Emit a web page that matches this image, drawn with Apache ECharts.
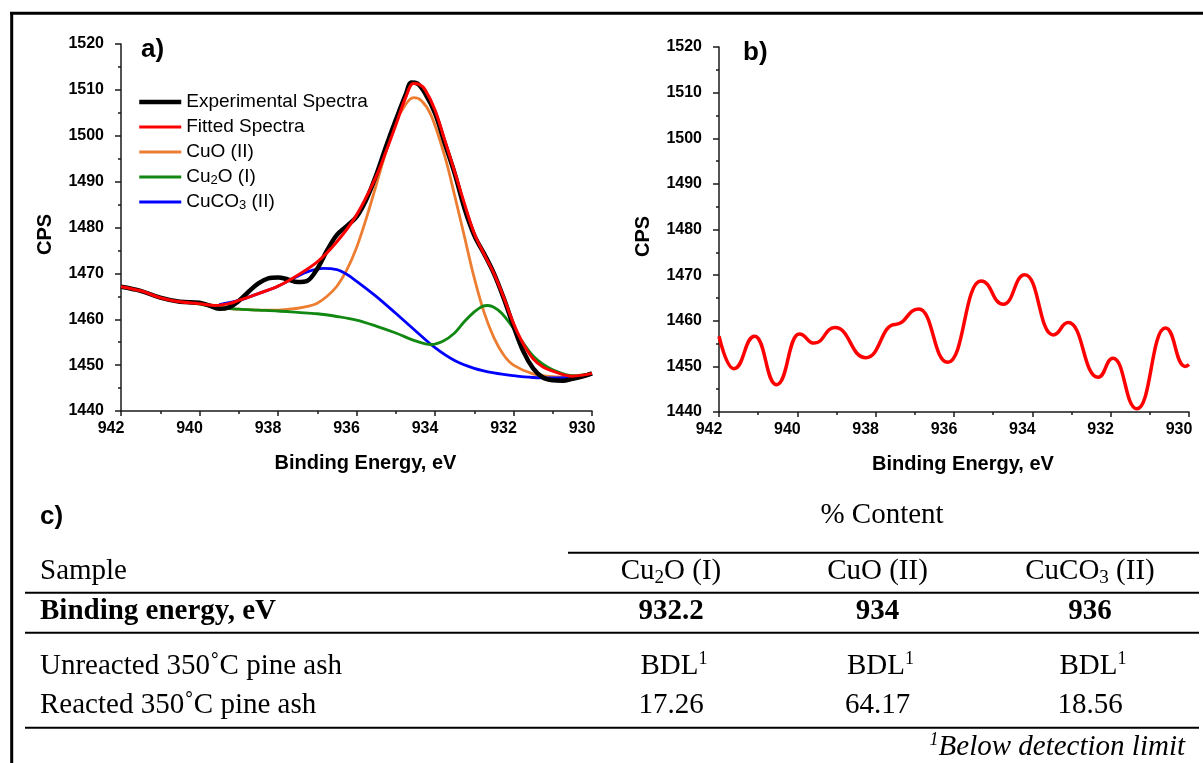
<!DOCTYPE html>
<html><head><meta charset="utf-8">
<script src="https://cdn.jsdelivr.net/npm/echarts@6/dist/echarts.min.js"></script>
<style>html,body{margin:0;padding:0;background:#fff}#c{width:1203px;height:763px}</style>
</head><body><div id="c"></div>
<script>
// ---------- DATA (binding energy eV, CPS) ----------
const experimental = [[942,1467.1],[941.5,1466.2],[941,1464.7],[940.5,1463.8],[940,1463.6],[939.75,1463.0],[939.5,1462.3],[939.25,1462.6],[939,1464.0],[938.75,1466.0],[938.5,1467.8],[938.25,1468.9],[938,1469.1],[937.75,1468.7],[937.5,1468.1],[937.25,1468.4],[937,1471.0],[936.75,1475.0],[936.5,1478.4],[936.25,1480.3],[936,1482.3],[935.75,1486.1],[935.5,1491.4],[935.25,1497.6],[935,1503.4],[934.75,1508.9],[934.6,1511.6],[934.45,1511.4],[934.25,1509.2],[934,1504.9],[933.75,1498.3],[933.5,1491.8],[933.25,1484.2],[933,1478.3],[932.75,1474.3],[932.5,1470.0],[932.25,1464.6],[932,1458.5],[931.75,1453.0],[931.5,1449.3],[931.25,1447.3],[931,1446.7],[930.75,1446.6],[930.5,1447.0],[930.25,1447.5],[930,1448.2]];
const fitted = [[942,1467.1],[941.5,1466.2],[941,1464.7],[940.5,1463.8],[940,1463.4],[939.6,1463.0],[939.25,1463.4],[939,1464.1],[938.5,1465.6],[938,1467.2],[937.5,1469.6],[937,1472.5],[936.5,1476.9],[936,1482.7],[935.5,1491.1],[935.25,1496.5],[935,1502.3],[934.75,1508.3],[934.55,1511.4],[934.4,1511.2],[934.25,1510.0],[934,1505.6],[933.75,1499.0],[933.5,1492.2],[933.25,1485.2],[933,1478.7],[932.75,1474.2],[932.5,1470.0],[932.25,1464.8],[932,1459.1],[931.75,1454.6],[931.5,1451.4],[931.25,1449.6],[931,1448.7],[930.5,1447.6],[930,1448.2]];
const cuO = [[939.5,1462.5],[939,1462.2],[938.5,1462.0],[938,1462.0],[937.5,1462.4],[937.25,1462.8],[937,1463.5],[936.75,1465.0],[936.5,1467.2],[936.25,1470.7],[936,1475.6],[935.75,1482.0],[935.5,1489.2],[935.25,1496.5],[935,1502.8],[934.75,1506.8],[934.55,1508.3],[934.35,1507.7],[934.1,1504.5],[933.75,1495.5],[933.5,1487.0],[933.25,1478.0],[933,1469.0],[932.75,1461.5],[932.5,1456.0],[932.25,1452.2],[932,1450.0],[931.5,1448.1],[931,1447.5],[930.5,1447.4],[930,1448.1]];
const cu2O = [[940.5,1463.8],[940,1463.3],[939.5,1462.5],[939,1462.2],[938.5,1462.0],[938,1461.8],[937.5,1461.5],[937,1461.2],[936.5,1460.6],[936,1459.8],[935.5,1458.5],[935,1457.0],[934.5,1455.3],[934.1,1454.5],[933.8,1455.2],[933.5,1457.0],[933.25,1459.5],[933,1461.6],[932.8,1462.8],[932.65,1463.0],[932.5,1462.6],[932.3,1461.3],[932,1458.0],[931.75,1454.8],[931.5,1452.0],[931.25,1450.2],[931,1449.0],[930.5,1447.7],[930,1448.2]];
const cuCO3 = [[939.5,1463.2],[939,1464.1],[938.5,1465.6],[938,1467.2],[937.5,1469.4],[937.2,1470.5],[936.85,1471.1],[936.5,1470.8],[936.25,1469.8],[936,1468.3],[935.5,1465.0],[935,1461.3],[934.5,1457.5],[934,1453.8],[933.5,1451.0],[933,1449.3],[932.5,1448.3],[932,1447.7],[931.5,1447.3],[931,1447.2],[930.5,1447.3],[930,1448.0]];
const panelB = [[942,1456.6],[941.62,1449.5],[941.09,1456.6],[940.53,1446.0],[939.95,1457.1],[939.57,1455.1],[939.04,1458.5],[938.25,1451.9],[937.5,1459.2],[936.9,1462.6],[936.16,1450.9],[935.31,1468.7],[934.74,1463.6],[934.19,1470.1],[933.47,1456.9],[933.08,1459.6],[932.32,1447.6],[931.94,1451.8],[931.33,1440.7],[930.6,1458.4],[930.1,1450.0],[930,1450.4]];

const legendNames = ['Experimental Spectra','Fitted Spectra','CuO (II)','Cu₂O (I)','CuCO₃ (II)'];
const panelLabels = ['a)','b)','c)'];
const tableTitle = '% Content';
const sampleHeader = 'Sample';
const tableHeads = ['Cu₂O (I)','CuO (II)','CuCO₃ (II)'];
const energyLabel = 'Binding energy, eV';
const bindingEnergies = ['932.2','934','936'];
const sampleNames = ['Unreacted 350˚C pine ash','Reacted 350˚C pine ash'];
const unreactedValues = ['BDL¹','BDL¹','BDL¹'];
const reactedValues = ['17.26','64.17','18.56'];
const footnote = '¹Below detection limit';

// ---------- helpers ----------
function richify(s){return s.replace(/₂/g,'{sb|2}').replace(/₃/g,'{sb|3}').replace(/¹/g,'{sp|1}');}
const SANS='Liberation Sans, Arial, sans-serif';
const SERIF='Liberation Serif, Times New Roman, serif';
const AX='#1a1a1a';

function xAx(grid){
  return {type:'value',gridIndex:grid,min:930,max:942,interval:2,inverse:true,
    axisLine:{show:true,onZero:false,lineStyle:{color:AX,width:1.5}},
    axisTick:{show:true,inside:false,length:5,lineStyle:{color:AX,width:1.5}},
    minorTick:{show:true,splitNumber:2,length:3,lineStyle:{color:AX,width:1.5}},
    splitLine:{show:false},minorSplitLine:{show:false},
    axisLabel:{margin:10,fontSize:16,fontWeight:'bold',fontFamily:SANS,color:'#000',padding:[0,20,0,0],formatter:v=>String(v)},
    name:'Binding Energy, eV',nameLocation:'middle',nameGap:42,
    nameTextStyle:{fontSize:20,fontWeight:'bold',fontFamily:SANS,color:'#000',padding:[0,0,0,18]}};
}
function yAx(grid){
  return {type:'value',gridIndex:grid,min:1440,max:1520,interval:10,
    axisLine:{show:true,lineStyle:{color:AX,width:1.5}},
    axisTick:{show:true,inside:false,length:6,lineStyle:{color:AX,width:1.5}},
    minorTick:{show:true,splitNumber:2,length:3,lineStyle:{color:AX,width:1.5}},
    splitLine:{show:false},minorSplitLine:{show:false},
    axisLabel:{margin:17,fontSize:16,fontWeight:'bold',fontFamily:SANS,color:'#000',formatter:v=>String(v)},
    name:'CPS',nameLocation:'middle',nameGap:66,
    nameTextStyle:{fontSize:20,fontWeight:'bold',fontFamily:SANS,color:'#000',padding:[0,14,0,0]}};
}
function ln(name,data,color,width,grid,z,extra){
  return Object.assign({type:'line',name,data,xAxisIndex:grid,yAxisIndex:grid,symbol:'none',showSymbol:false,
    smooth:0.35,lineStyle:{color,width},itemStyle:{color},z,animation:false,silent:true},extra||{});
}

// ---------- table graphic ----------
const colX=[671,877.5,1090];
const serifRich=(size,weight,style)=>({
  sb:{fontFamily:SERIF,fontSize:Math.round(size*0.65),fontWeight:weight,fontStyle:style,lineHeight:12,verticalAlign:'bottom',fill:'#000'},
  sp:{fontFamily:SERIF,fontSize:Math.round(size*0.62),fontWeight:weight,fontStyle:style,lineHeight:18,verticalAlign:'top',fill:'#000'}
});
function txt(text,x,y,opts){
  const size=opts.size||29, weight=opts.weight||'normal', style=opts.style||'normal';
  return {type:'text',x,y,silent:true,style:{text:richify(text),fontFamily:opts.family||SERIF,fontSize:size,fontWeight:weight,fontStyle:style,
    fill:'#000',align:opts.align||'left',verticalAlign:'middle',lineHeight:32,rich:serifRich(size,weight,style)}};
}
function hline(x1,x2,y,w){return {type:'line',silent:true,shape:{x1,y1:y,x2,y2:y},style:{stroke:'#000',lineWidth:w||2}};}

const graphics=[
  {type:'line',silent:true,shape:{x1:10,y1:13.3,x2:1203,y2:13.3},style:{stroke:'#000',lineWidth:3}},
  {type:'line',silent:true,shape:{x1:11.7,y1:12,x2:11.7,y2:763},style:{stroke:'#000',lineWidth:3}},
  txt(tableTitle,882,515.7,{align:'center'}),
  hline(568,1199,552.7),
  txt(sampleHeader,40,571.7,{}),
  hline(25,1199,592.7),
  txt(energyLabel,40,611.5,{weight:'bold'}),
  hline(25,1199,632.7),
  txt(sampleNames[0],40,666.7,{}),
  txt(sampleNames[1],40,705,{}),
  hline(25,1199,727.7),
  txt(footnote,1185,747.7,{align:'right',style:'italic'})
];
tableHeads.forEach((h,i)=>graphics.push(txt(h,colX[i],571.7,{align:'center'})));
bindingEnergies.forEach((h,i)=>graphics.push(txt(h,colX[i],611.5,{align:'center',weight:'bold'})));
unreactedValues.forEach((h,i)=>graphics.push(txt(h,colX[i]+3,666.7,{align:'center'})));
reactedValues.forEach((h,i)=>graphics.push(txt(h,colX[i],705,{align:'center'})));

// ---------- chart ----------
const chart=echarts.init(document.getElementById('c'),null,{renderer:'canvas'});
const titleStyle={fontSize:26,fontWeight:'bold',fontFamily:SANS,color:'#000'};
const legendWidths=[4.5,3,2.8,2.8,2.8];
chart.setOption({
  animation:false,
  backgroundColor:'#fff',
  title:[
    {text:panelLabels[0],left:141,top:37,padding:0,textStyle:titleStyle},
    {text:panelLabels[1],left:743,top:40,padding:0,textStyle:titleStyle},
    {text:panelLabels[2],left:40,top:504,padding:0,textStyle:titleStyle}
  ],
  grid:[
    {left:121,top:44,width:471,height:367,containLabel:false},
    {left:719,top:47,width:470,height:365,containLabel:false}
  ],
  xAxis:[xAx(0),xAx(1)],
  yAxis:[yAx(0),yAx(1)],
  legend:{
    orient:'vertical',left:137,top:92,padding:0,itemWidth:42,itemHeight:14,itemGap:5,
    data:legendNames.map((n,i)=>({name:n,lineStyle:{width:legendWidths[i]}})),
    selectedMode:false,
    itemStyle:{opacity:0,borderWidth:0},
    lineStyle:{width:'inherit'},
    formatter:n=>richify(n),
    textStyle:{fontFamily:SANS,fontSize:19,color:'#000',lineHeight:20,
      rich:{sb:{fontFamily:SANS,fontSize:13,lineHeight:10,verticalAlign:'bottom',color:'#000'}}}
  },
  series:[
    ln('CuO (II)',cuO,'#ED7D31',2.8,0,2),
    ln('CuCO₃ (II)',cuCO3,'#0000FF',2.8,0,3),
    ln('Cu₂O (I)',cu2O,'#118811',2.8,0,4),
    ln('Experimental Spectra',experimental,'#000000',4.5,0,5),
    ln('Fitted Spectra',fitted,'#FF0000',3,0,6),
    ln('b',panelB,'#FF0000',3.5,1,6,{smooth:0.5,smoothMonotone:'x'})
  ],
  graphic:graphics
});
</script></body></html>
